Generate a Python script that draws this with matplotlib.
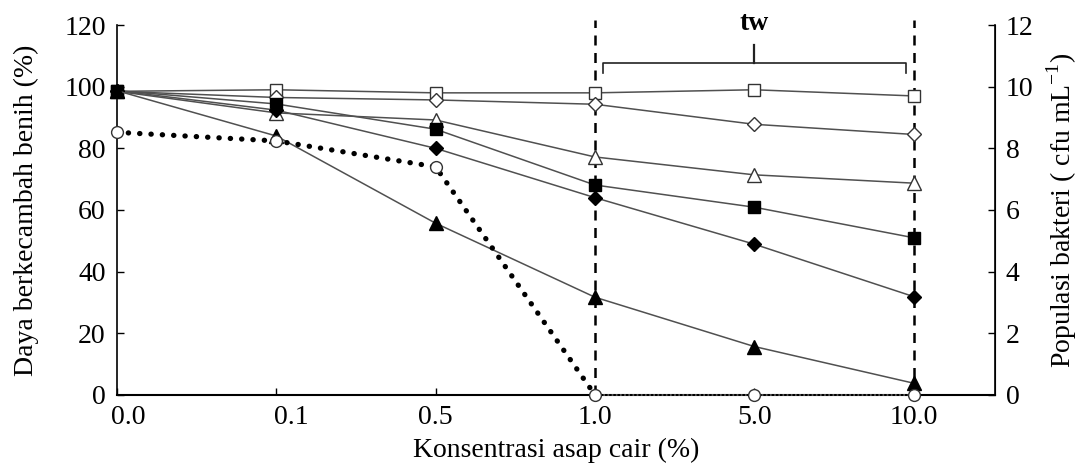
import matplotlib
matplotlib.use("Agg")
import matplotlib.pyplot as plt
import matplotlib.transforms as mtransforms

plt.rcParams['font.family'] = ['Liberation Serif', 'DejaVu Serif']
plt.rcParams['mathtext.fontset'] = 'custom'
plt.rcParams['mathtext.rm'] = 'Liberation Serif'

# konsentrasi asap cair (%), ditampilkan sebagai kategori
konsentrasi = ["0.0", "0.1", "0.5", "1.0", "5.0", "10.0"]
x = list(range(len(konsentrasi)))

# daya berkecambah benih (%)
kotak_terbuka = [98.5, 99, 98, 98, 99, 97]
belah_terbuka = [98.5, 96.5, 95.7, 94.3, 87.8, 84.5]
segitiga_terbuka = [98.5, 91.5, 89.2, 77.2, 71.4, 68.7]
kotak_penuh = [98.7, 94.4, 86.2, 68.1, 60.9, 51]
belah_penuh = [98.7, 92.4, 80, 64, 48.9, 31.9]
segitiga_penuh = [98.7, 84, 55.7, 31.7, 15.7, 3.8]

# populasi bakteri (cfu/mL)
bakteri = [8.52, 8.24, 7.4, 0, 0, 0]

# batas tw
tw_awal = "1.0"
tw_akhir = "10.0"

fs = 20

fig = plt.figure(figsize=(10.79, 4.69), dpi=100)
ax = fig.add_axes([0.1084, 0.158, 0.8136, 0.7886])
ax2 = ax.twinx()

garis = '#505050'
tepi = '#333333'

def seri(y, m, ms, fc):
    ax.plot(x, y, color=garis, lw=1.1, marker=m, ms=ms, mfc=fc, mec=tepi if fc == 'white' else 'black',
            mew=1.0, clip_on=False, zorder=3)

seri(kotak_terbuka, 's', 8.5, 'white')
seri(belah_terbuka, 'D', 7, 'white')
seri(segitiga_terbuka, '^', 9.5, 'white')
seri(kotak_penuh, 's', 8.5, 'black')
seri(belah_penuh, 'D', 7, 'black')
seri(segitiga_penuh, '^', 9.5, 'black')

# garis putus-putus vertikal
i1 = konsentrasi.index(tw_awal)
i2 = konsentrasi.index(tw_akhir)
for i in (i1, i2):
    ax.plot([x[i], x[i]], [0, 121.5], color='black', lw=1.8, ls=(0, (4, 3)), clip_on=False, zorder=2)

# kurung tw
xa, xb = x[i1] + 0.05, x[i2] - 0.05
xm = (x[i1] + x[i2]) / 2
ax.plot([xa, xa, xb, xb], [104.5, 107.8, 107.8, 104.5], color='#222222', lw=1.2, clip_on=False)
ax.plot([xm, xm], [107.8, 113.5], color='#222222', lw=1.6, clip_on=False)
ax.text(xm, 120.5, "tw", ha='center', va='center', fontsize=fs, fontweight='bold')

# populasi bakteri (sumbu kanan)
ax2.plot(x[:i1 + 1], bakteri[:i1 + 1], color='black', lw=3.8, ls=(0, (0.05, 2.1)),
         dash_capstyle='round', clip_on=False, zorder=2)
ax2.plot(x[i1:], bakteri[i1:], color='#666666', lw=1.2, ls=(0, (1, 1.5)), clip_on=False, zorder=2)
ax2.plot(x, bakteri, ls='none', marker='o', ms=8.5, mfc='white', mec=tepi, mew=1.0,
         clip_on=False, zorder=3)

ax.set_xlim(0, 5.51)
ax.set_ylim(0, 120)
ax2.set_ylim(0, 12)
ax.set_yticks(range(0, 121, 20))
ax2.set_yticks(range(0, 13, 2))
ax.set_xticks(x)
ax.set_xticklabels(konsentrasi)

for a in (ax, ax2):
    a.spines['top'].set_visible(False)
    a.tick_params(direction='in', labelsize=fs, length=5, width=1)
ax.spines['left'].set_linewidth(1.2)
ax.spines['bottom'].set_linewidth(1.5)
ax2.spines['right'].set_linewidth(1.2)
ax2.spines['left'].set_visible(False)
ax2.spines['bottom'].set_visible(False)
ax.tick_params(axis='y', pad=8)
ax2.tick_params(axis='y', pad=8)
ax.tick_params(axis='x', pad=7)

# geser label 0.0 dan 0.1 sedikit ke kanan
labels = ax.get_xticklabels()
for lab, dx in zip(labels[:2], [11, 15]):
    off = mtransforms.ScaledTranslation(dx / 100, 0, fig.dpi_scale_trans)
    lab.set_transform(lab.get_transform() + off)

ax.set_xlabel("Konsentrasi asap cair (%)", fontsize=fs, labelpad=6)
ax.set_ylabel("Daya berkecambah benih (%)", fontsize=fs, labelpad=18)
ax2.set_ylabel("Populasi bakteri ( cfu mL$^{\\mathregular{-1}}$)", fontsize=fs, labelpad=8)

fig.savefig("out.png", dpi=100)
